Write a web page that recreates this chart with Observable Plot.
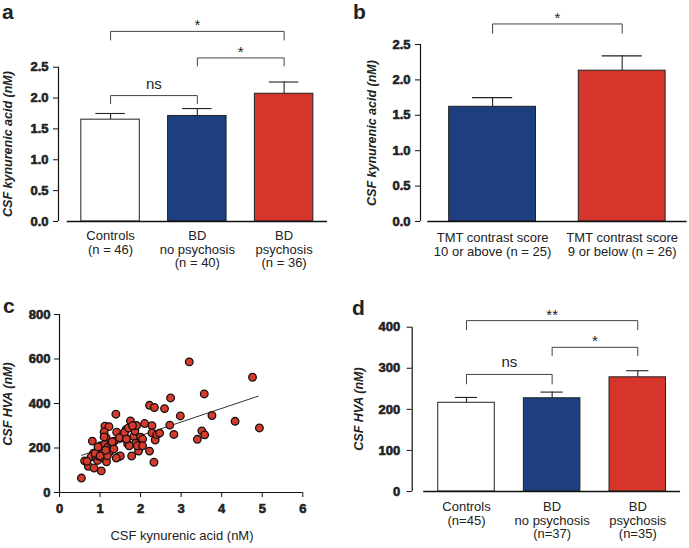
<!DOCTYPE html>
<html><head><meta charset="utf-8">
<script src="https://cdn.jsdelivr.net/npm/d3@7"></script>
<script src="https://cdn.jsdelivr.net/npm/@observablehq/plot@0.6"></script>
<style>
body{margin:0;background:#fff;}
#fig{position:relative;width:689px;height:548px;overflow:hidden;font-family:"Liberation Sans",Arial,sans-serif;color:#222;background:#fff;}
#fig svg{position:absolute;overflow:visible;background:transparent;}
#fig svg g[aria-label="tick-label"] text{font-weight:700 !important;}
.letter{position:absolute;font-weight:bold;font-size:21px;line-height:normal;}
.ytitle{position:absolute;font-weight:bold;font-style:italic;font-size:12.5px;white-space:nowrap;transform:translate(-50%,-50%) rotate(-90deg);}
.xtitle{position:absolute;font-size:13px;white-space:nowrap;transform:translate(-50%,-50%);}
</style></head><body><div id="fig"></div>
<script>
// ---------- data ----------
// Panel a: CSF kynurenic acid by group
const catsA = ["Controls\n(n = 46)", "BD\nno psychosis\n(n = 40)", "BD\npsychosis\n(n = 36)"];
const meanA = [1.65, 1.71, 2.07];
const semA  = [0.10, 0.12, 0.19];
const bracketsA = [
  {a: 0, b: 1, y: 2.04, drop: 1.91, label: "ns"},
  {a: 1, b: 2, y: 2.65, drop: 2.52, label: "*"},
  {a: 0, b: 2, y: 3.08, drop: 2.94, label: "*"}
];
const ticksKyn = [0, 0.5, 1.0, 1.5, 2.0, 2.5];

// Panel b: CSF kynurenic acid by TMT contrast score
const catsB = ["TMT contrast score\n10 or above (n = 25)", "TMT contrast score\n9 or below (n = 26)"];
const meanB = [1.62, 2.13];
const semB  = [0.13, 0.21];
const bracketsB = [{a: 0, b: 1, y: 2.79, drop: 2.66, label: "*"}];

// Panel c: scatter CSF kynurenic acid vs CSF HVA
const kynX = [0.54,0.62,0.71,0.81,0.85,0.84,0.78,0.90,0.94,0.97,1.01,1.03,1.05,1.08,1.12,1.22,1.10,1.15,1.12,1.19,
  1.24,1.16,1.18,1.28,1.34,1.35,1.39,1.41,1.45,1.50,1.53,1.57,1.64,1.68,1.62,1.75,1.77,1.78,1.83,1.86,
  1.88,1.90,1.95,1.72,2.00,2.05,2.10,2.22,2.22,2.28,2.28,2.34,2.33,2.36,2.40,2.47,2.59,2.72,2.74,2.82,
  2.98,3.20,3.40,3.51,3.58,3.57,3.76,4.33,4.76,4.93,0.68,0.88,1.00,1.10,1.14,1.30,1.48,1.60,1.70,1.80,
  1.92,1.40,2.05,1.65,0.95];
const hvaY = [65,142,118,231,110,177,160,156,144,163,210,97,177,156,298,296,272,246,216,204,
  184,138,165,223,196,231,352,271,160,164,246,261,282,219,248,322,293,164,252,276,
  222,301,186,210,249,240,310,392,186,300,268,382,136,236,260,267,377,303,425,261,
  344,587,239,277,259,443,346,320,518,290,140,176,165,250,190,228,246,270,290,300,
  210,155,210,240,205];
const fitX = [0.55, 4.9];
const fitY = [167, 433];
const ticksXC = [0, 1, 2, 3, 4, 5, 6];
const ticksYC = [0, 200, 400, 600, 800];

// Panel d: CSF HVA by group
const catsD = ["Controls\n(n=45)", "BD\nno psychosis\n(n=37)", "BD\npsychosis\n(n=35)"];
const meanD = [216, 227, 278];
const semD  = [13, 15, 16];
const bracketsD = [
  {a: 0, b: 1, y: 285, drop: 262, label: "ns"},
  {a: 1, b: 2, y: 351, drop: 331, label: "*"},
  {a: 0, b: 2, y: 416, drop: 394, label: "**"}
];
const ticksHVA = [0, 100, 200, 300, 400];

// ---------- styles ----------
const FONT = '"Liberation Sans", Arial, sans-serif';
const fillsGroup = ["#ffffff", "#1d3f80", "#d6352b"];
const fillsTMT = ["#1d3f80", "#d6352b"];
const INK = "#222";
const TICK = 5;

function yTickMarks(ticks, fmt, pad) {
  return [
    Plot.axisY({ticks, tickSize: TICK, tickFormat: () => "", label: null, stroke: "#111"}),
    Plot.text(ticks, {y: d => d, text: d => fmt(d), frameAnchor: "left", textAnchor: "end",
      lineAnchor: "middle", dx: -(TICK + pad), fontWeight: "bold", fontSize: 13, fill: INK,
      stroke: INK, strokeWidth: 0.6, ariaLabel: "tick-label"})
  ];
}

function barPanel(o) {
  const rows = o.cats.map((c, i) => ({i, c, m: o.means[i], s: o.sems[i], f: o.fills[i]}));
  const bpath = o.brackets.flatMap((b, k) => [
    {k, x: b.a, y: b.drop}, {k, x: b.a, y: b.y}, {k, x: b.b, y: b.y}, {k, x: b.b, y: b.drop}
  ]);
  const yMax = o.ticks[o.ticks.length - 1];
  const n = o.cats.length;
  const svg = Plot.plot({
    width: o.width, height: o.height,
    marginLeft: o.ml, marginRight: o.mr, marginTop: o.mt, marginBottom: o.mb,
    x: {domain: o.xDomain, axis: null},
    y: {domain: [0, yMax]},
    color: {type: "identity"},
    style: {fontFamily: FONT, fontSize: "13px", color: INK, background: "transparent", overflow: "visible"},
    marks: [
      Plot.ruleX(rows, {x: "i", y1: "m", y2: d => d.m + d.s, stroke: INK, strokeWidth: 1.1}),
      Plot.ruleY(rows, {y: d => d.m + d.s, x1: d => d.i - o.capW, x2: d => d.i + o.capW, stroke: INK, strokeWidth: 1.1}),
      Plot.rectY(rows, {x1: d => d.i - o.halfW, x2: d => d.i + o.halfW, y1: 0, y2: "m", fill: "f", stroke: INK, strokeWidth: 1}),
      Plot.ruleY([0], {x1: -0.5, x2: n - 0.5, stroke: "#111", strokeWidth: 1.4}),
      Plot.ruleX([o.xDomain[0]], {y1: 0, y2: yMax, stroke: "#111", strokeWidth: 1.2}),
      ...yTickMarks(o.ticks, o.fmt, o.tickPad),
      Plot.line(bpath, {x: "x", y: "y", z: "k", stroke: "#444", strokeWidth: 1}),
      Plot.text(o.brackets, {filter: d => d.label === "ns", x: d => (d.a + d.b) / 2, y: "y", text: "label", lineAnchor: "bottom", dy: -7, fontSize: 15, fill: INK}),
      Plot.text(o.brackets, {filter: d => d.label !== "ns", x: d => (d.a + d.b) / 2, y: "y", text: "label", lineAnchor: "bottom", dy: -1, fontSize: 15, fill: INK}),
      Plot.text(rows, {x: "i", y: 0, text: "c", lineAnchor: "top", dy: o.labelDy, lineHeight: 1.05, fontSize: 13, fill: INK})
    ]
  });
  svg.style.left = o.left + "px";
  svg.style.top = o.top + "px";
  return svg;
}

const fig = document.getElementById("fig");

fig.appendChild(barPanel({
  cats: catsA, means: meanA, sems: semA, fills: fillsGroup, brackets: bracketsA,
  ticks: ticksKyn, fmt: d3.format(".1f"), tickPad: 5,
  left: 0, top: 0, width: 345, height: 280,
  ml: 58, mr: 18, mt: 66.7, mb: 59, xDomain: [-0.6, 2.5],
  halfW: 0.337, capW: 0.17, labelDy: 9
}));

fig.appendChild(barPanel({
  cats: catsB, means: meanB, sems: semB, fills: fillsTMT, brackets: bracketsB,
  ticks: ticksKyn, fmt: d3.format(".1f"), tickPad: 5,
  left: 345, top: 0, width: 344, height: 280,
  ml: 75, mr: 2.5, mt: 44, mb: 59, xDomain: [-0.556, 1.5],
  halfW: 0.335, capW: 0.155, labelDy: 11
}));

fig.appendChild(barPanel({
  cats: catsD, means: meanD, sems: semD, fills: fillsGroup, brackets: bracketsD,
  ticks: ticksHVA, fmt: d3.format("d"), tickPad: 7,
  left: 345, top: 280, width: 344, height: 268,
  ml: 66.7, mr: 8.9, mt: 46.7, mb: 57, xDomain: [-0.634, 2.5],
  halfW: 0.33, capW: 0.13, labelDy: 10
}));

// Panel c scatter
const pts = kynX.map((x, i) => ({x, y: hvaY[i]}));
const fit = fitX.map((x, i) => ({x, y: fitY[i]}));
const svgC = Plot.plot({
  width: 345, height: 268,
  marginLeft: 59, marginRight: 42.7, marginTop: 34, marginBottom: 56,
  x: {domain: [0, 6]},
  y: {domain: [0, 800]},
  style: {fontFamily: FONT, fontSize: "13px", color: INK, background: "transparent", overflow: "visible"},
  marks: [
    Plot.ruleX([0], {stroke: "#111", strokeWidth: 1.2}),
    Plot.ruleY([0], {stroke: "#111", strokeWidth: 1.2}),
    Plot.axisX({ticks: ticksXC, tickSize: TICK, tickFormat: () => "", label: null, stroke: "#111"}),
    Plot.text(ticksXC, {x: d => d, text: d => String(d), frameAnchor: "bottom", lineAnchor: "top",
      dy: TICK + 6, fontWeight: "bold", fontSize: 13, fill: INK, stroke: INK, strokeWidth: 0.6, ariaLabel: "tick-label"}),
    ...yTickMarks(ticksYC, d3.format("d"), 4),
    Plot.line(fit, {x: "x", y: "y", stroke: "#333", strokeWidth: 1}),
    Plot.dot(pts, {x: "x", y: "y", r: 3.8, fill: "#d63a2c", stroke: "#111", strokeWidth: 1.3})
  ]
});
svgC.style.left = "0px";
svgC.style.top = "280px";
fig.appendChild(svgC);

// HTML text: panel letters and axis titles
function addDiv(cls, text, css) {
  const d = document.createElement("div");
  d.className = cls;
  d.textContent = text;
  Object.assign(d.style, css);
  fig.appendChild(d);
}
addDiv("letter", "a", {left: "2px", top: "0px"});
addDiv("letter", "b", {left: "353px", top: "0px"});
addDiv("letter", "c", {left: "3px", top: "294px"});
addDiv("letter", "d", {left: "352px", top: "296px"});
addDiv("ytitle", "CSF kynurenic acid (nM)", {left: "8px", top: "144px"});
addDiv("ytitle", "CSF kynurenic acid (nM)", {left: "372px", top: "133px"});
addDiv("ytitle", "CSF HVA (nM)", {left: "8px", top: "404px"});
addDiv("ytitle", "CSF HVA (nM)", {left: "359px", top: "409px"});
addDiv("xtitle", "CSF kynurenic acid (nM)", {left: "182px", top: "535px"});
</script>
</body></html>
